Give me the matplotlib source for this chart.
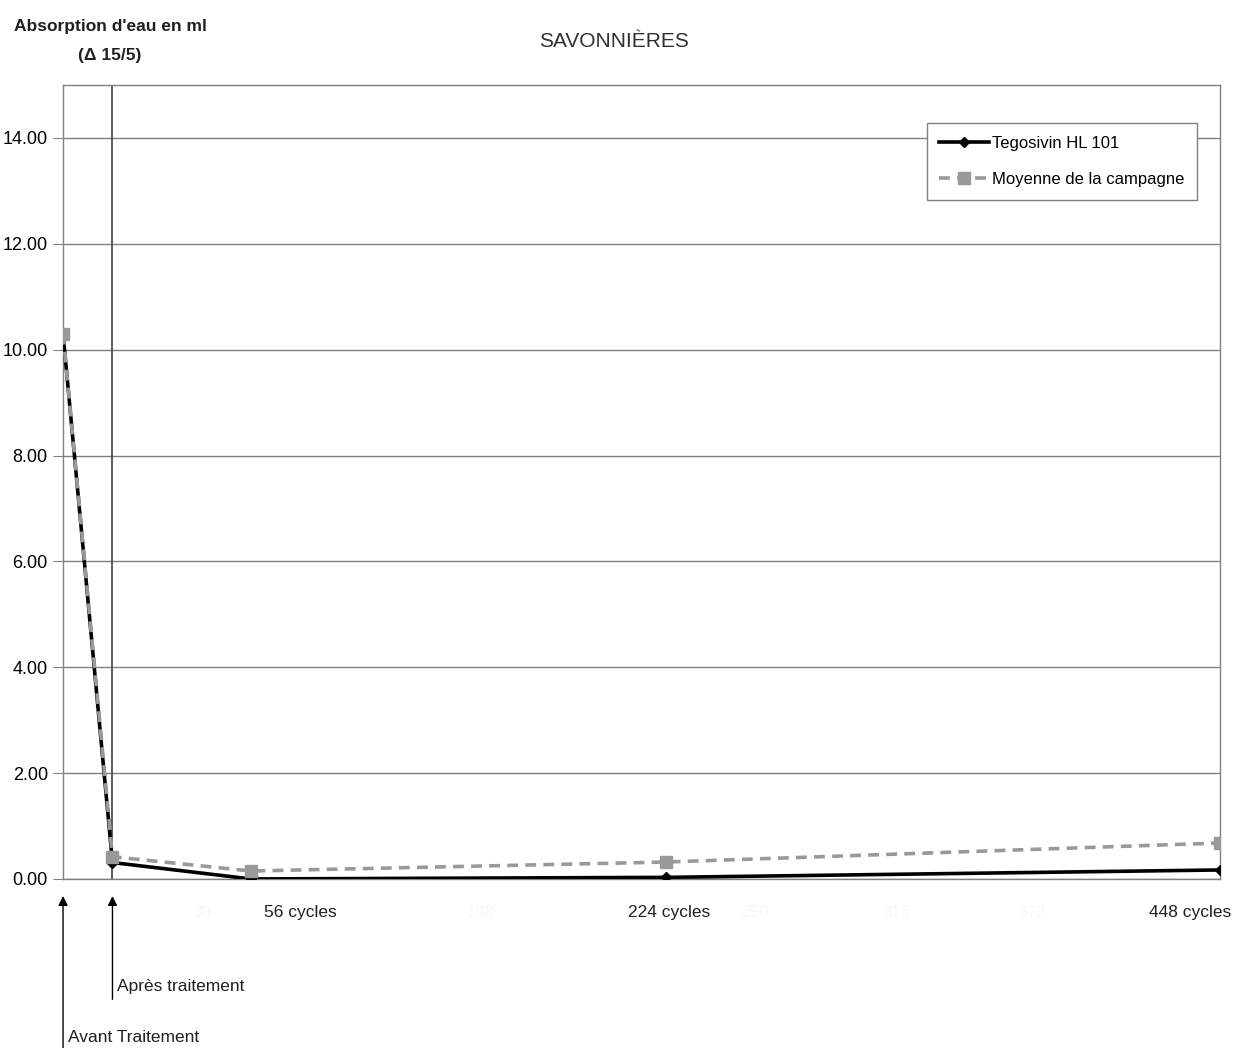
import matplotlib.pyplot as plt
import numpy as np

plt.rcParams['font.family'] = ['Liberation Sans Narrow', 'Liberation Sans', 'DejaVu Sans']

# cycles (Avant traitement placed at -20, Après traitement at 0)
cycles = [-20, 0, 56, 224, 448]
tegosivin = [10.30, 0.31, 0.00, 0.03, 0.17]
moyenne = [10.30, 0.42, 0.15, 0.32, 0.68]

cycle_labels = ['56 cycles', '224 cycles', '448 cycles']
cycle_label_pos = [76, 225, 436]
faint_labels = ['30', '148', '250', '316', '372']
faint_pos = [36, 149, 260, 317, 372]

yticks = np.arange(0, 15, 2)

fig = plt.figure(figsize=(12.36, 10.48), dpi=100)
ax = fig.add_axes([0.051, 0.1613, 0.936, 0.7576])

ax.plot(cycles, tegosivin, color='black', lw=2.6, marker='D', markersize=5,
        label='Tegosivin HL 101', zorder=3)
ax.plot(cycles, moyenne, color='#999999', lw=2.6, ls=(0, (3, 2)), marker='s',
        markersize=9, label='Moyenne de la campagne', zorder=4)

ax.axvline(0, color='#404040', lw=1.2, zorder=2)

ax.set_xlim(-20, 448)
ax.set_ylim(0, 15)
ax.set_yticks(yticks)
ax.set_yticklabels(['%.2f' % v for v in yticks], fontsize=13)
ax.set_xticks([])
ax.yaxis.grid(True, color='#808080', lw=1)
ax.set_axisbelow(True)
ax.tick_params(axis='y', length=7, color='#808080', pad=4)
for s in ax.spines.values():
    s.set_color('#808080')
    s.set_linewidth(1)

trans = ax.get_xaxis_transform()
for lab, p in zip(faint_labels, faint_pos):
    ax.text(p, -0.042, lab, transform=trans, ha='center', va='center',
            fontsize=12, color='#f7f7f7', clip_on=False, zorder=0)
for lab, p in zip(cycle_labels, cycle_label_pos):
    ax.text(p, -0.042, lab, transform=trans, ha='center', va='center',
            fontsize=12.5, color='#202020', clip_on=False)

# arrows for the two reference measurements
ax.annotate('', xy=(-20, -0.018), xytext=(-20, -0.225), xycoords=trans,
            textcoords=trans, annotation_clip=False,
            arrowprops=dict(arrowstyle='-|>', color='black', lw=1, mutation_scale=14))
ax.annotate('', xy=(0, -0.018), xytext=(0, -0.155), xycoords=trans,
            textcoords=trans, annotation_clip=False,
            arrowprops=dict(arrowstyle='-|>', color='black', lw=1, mutation_scale=14))
ax.text(2, -0.135, 'Après traitement', transform=trans, ha='left', va='center',
        fontsize=12.5, color='#202020', clip_on=False)
ax.text(-18, -0.2, 'Avant Traitement', transform=trans, ha='left', va='center',
        fontsize=12.5, color='#202020', clip_on=False)

fig.text(0.497, 0.96, 'SAVONNIÈRES', ha='center', va='center', fontsize=15,
         color='#303030')
fig.text(0.089, 0.975, "Absorption d'eau en ml", ha='center', va='center',
         fontsize=12.5, fontweight='bold', color='#202020')
fig.text(0.089, 0.947, '(Δ 15/5)', ha='center', va='center',
         fontsize=12.5, fontweight='bold', color='#202020')

leg = ax.legend(loc='upper right', bbox_to_anchor=(0.98, 0.952), fontsize=12,
                fancybox=False, framealpha=1, edgecolor='#808080',
                handlelength=3.0, handletextpad=0.15, borderpad=0.75,
                labelspacing=1.3, borderaxespad=0)
leg.get_frame().set_linewidth(1)

fig.savefig('out.png', dpi=100)
